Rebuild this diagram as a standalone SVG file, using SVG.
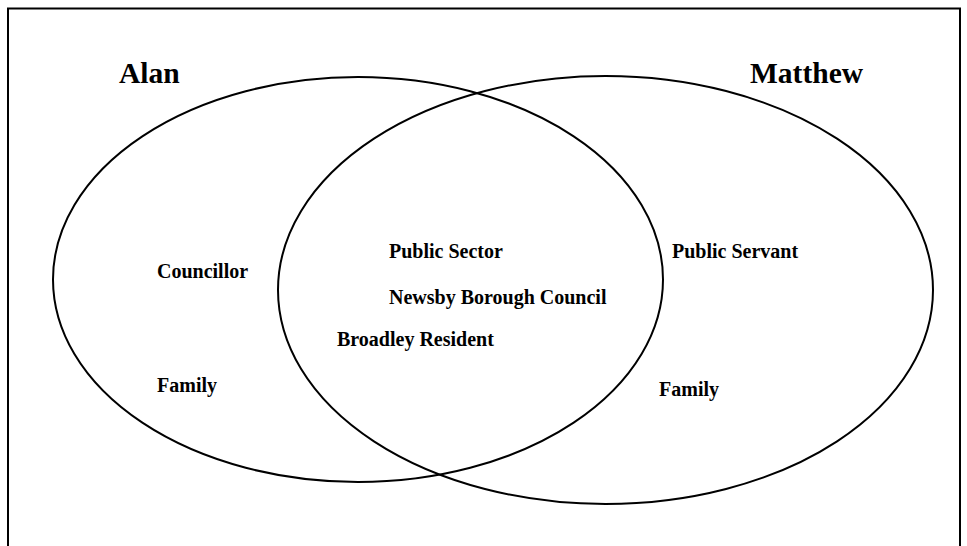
<svg xmlns="http://www.w3.org/2000/svg" width="967" height="546" viewBox="0 0 967 546">
<style>
.frame{fill:none;stroke:#000;stroke-width:2}
.set{fill:none;stroke:#000;stroke-width:2}
.title{font-family:"Liberation Serif","Times New Roman",serif;font-weight:bold;font-size:29.5px;fill:#000}
.lbl{font-family:"Liberation Serif","Times New Roman",serif;font-weight:bold;font-size:20px;fill:#000}
</style>
<rect width="967" height="546" fill="#fff"/>
<path class="frame" d="M8,560 V8.5 H960 V560"/>
<g id="alan">
<ellipse class="set" cx="358" cy="279.5" rx="305" ry="202.5"/>
<text class="title" x="119" y="83">Alan</text>
<text class="lbl" x="157" y="278">Councillor</text>
<text class="lbl" x="157" y="392">Family</text>
</g>
<g id="matthew">
<ellipse class="set" cx="605.5" cy="290" rx="327.5" ry="214"/>
<text class="title" x="750" y="83">Matthew</text>
<text class="lbl" x="672" y="258">Public Servant</text>
<text class="lbl" x="659" y="396">Family</text>
</g>
<g id="shared">
<text class="lbl" x="389" y="258">Public Sector</text>
<text class="lbl" x="389" y="304">Newsby Borough Council</text>
<text class="lbl" x="337" y="346">Broadley Resident</text>
</g>
<g id="connectors"></g>
</svg>
